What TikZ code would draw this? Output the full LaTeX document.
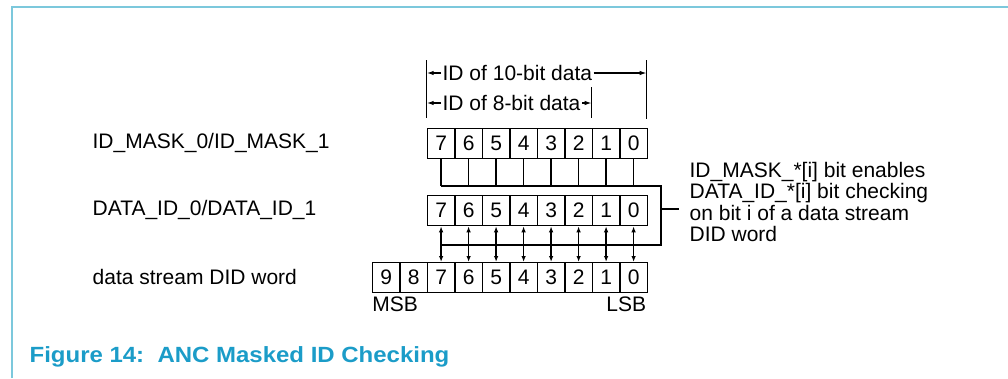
\documentclass[tikz,border=0pt]{standalone}
\usepackage{fontspec}
\usepackage{graphicx}
\setmainfont{Liberation Sans}
\usetikzlibrary{arrows.meta}
\definecolor{frameblue}{HTML}{7CC8DC}
\definecolor{capblue}{HTML}{1B9CC8}
\begin{document}
\begin{tikzpicture}[x=1pt,y=-1pt,
  font=\fontsize{21}{21.3}\selectfont, line width=1.3pt,
  cell/.style={draw, minimum width=27.5pt, minimum height=30pt, inner sep=0pt, anchor=north west},
  lbl/.style={anchor=west, inner sep=0pt},
  dimlbl/.style={anchor=west, inner sep=1pt},
  tip/.style={-{Latex[length=7pt,width=4.5pt]}},
  dtip/.style={{Latex[length=6pt,width=4.5pt]}-{Latex[length=6pt,width=4.5pt]}}]
\useasboundingbox (0,0) rectangle (1008,378);
\draw[frameblue, line width=2pt] (12,378) -- (12,7) -- (1008,7);

% labels
\node[lbl] (lm) at (92,143) {ID\_MASK\_0/ID\_MASK\_1};
\node[lbl] (ld) at (92,210) {DATA\_ID\_0/DATA\_ID\_1};
\node[lbl] (ls) at (92,277) {data stream DID word};

% cells
\foreach \b [count=\k from 0] in {7,6,5,4,3,2,1,0} {
  \node[cell] (m\b) at ({426.7+27.5*\k},128) {\b};
  \node[cell] (d\b) at ({426.7+27.5*\k},195) {\b};
}
\foreach \b [count=\k from 0] in {9,8,7,6,5,4,3,2,1,0} {
  \node[cell] (s\b) at ({371.7+27.5*\k},262) {\b};
}

% dimension ticks
\coordinate (lt1) at (426.7,60);  \coordinate (lt2) at (426.7,118);
\coordinate (rt1) at (646.7,60);  \coordinate (rt2) at (646.7,119);
\coordinate (mt1) at (591.7,87);  \coordinate (mt2) at (591.7,118);
\draw (lt1) -- (lt2);
\draw (rt1) -- (rt2);
\draw (mt1) -- (mt2);
\node[dimlbl] (ten) at (441,73) {ID of 10-bit data};
\node[dimlbl] (eight) at (441,103) {ID of 8-bit data};
\draw[tip] (ten.west) -- (ten.west -| lt1);
\draw[tip] (ten.east) -- (ten.east -| rt1);
\draw[tip] (eight.west) -- (eight.west -| lt1);
\draw[tip] (eight.east) -- (eight.east -| mt1);

% mask connectors
\coordinate (hA) at (661,186);
\coordinate (hB) at (661,245);
\foreach \b in {7,6,5,4,3,2,1,0} {
  \draw (m\b.south) -- (m\b.south |- hA);
  \draw[dtip] (d\b.south) -- (s\b.north);
}
\draw (m7.south |- hA) -- (hA) -- (hB) -- (d7.south |- hB);
\coordinate (st) at (661,209);
\coordinate (se) at (679,209);
\draw (st) -- (se);

\node[lbl, align=left] (note) at (689,202) {ID\_MASK\_*[i] bit enables\\DATA\_ID\_*[i] bit checking\\on bit i of a data stream\\DID word};

% MSB / LSB
\node[lbl] (msb) at (371.7,304) {MSB};
\node[anchor=east, inner sep=0pt] (lsb) at (646.7,304) {LSB};

% caption
\node[anchor=base west, inner sep=0pt, text=capblue, font=\bfseries\fontsize{22}{22}\selectfont] (cap) at (29,362) {\scalebox{1.09}[1]{Figure 14:\ \ ANC Masked ID Checking}};
\end{tikzpicture}
\end{document}
